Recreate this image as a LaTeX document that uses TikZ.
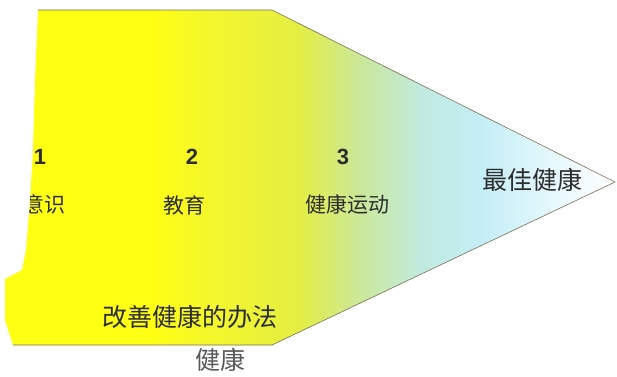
\documentclass[tikz,border=0pt]{standalone}
\usepackage{fontspec}
\setmainfont{Liberation Sans}
\newfontfamily\cjk{Noto Sans CJK SC}
\definecolor{cA}{RGB}{255,255,20}
\definecolor{cB}{RGB}{245,248,40}
\definecolor{cC}{RGB}{228,238,66}
\definecolor{cD}{RGB}{205,232,145}
\definecolor{cE}{RGB}{192,234,222}
\definecolor{cF}{RGB}{196,238,246}
\definecolor{cG}{RGB}{230,248,252}
\definecolor{edge}{RGB}{120,110,80}
\definecolor{txt}{RGB}{45,45,45}
\pgfdeclarehorizontalshading{fade}{100bp}{color(0bp)=(cA); color(37bp)=(cA); color(41bp)=(cB); color(49bp)=(cC); color(53.5bp)=(cD); color(59bp)=(cE); color(64bp)=(cF); color(70bp)=(cG); color(75bp)=(white); color(100bp)=(white)}
\tikzset{
  num/.style={font=\fontsize{22}{22}\selectfont\bfseries, text=txt, inner sep=0pt},
  lab/.style={font=\cjk\fontsize{21}{21}\selectfont, text=txt, inner sep=0pt},
  big/.style={font=\cjk\fontsize{25}{25}\selectfont, text=txt, inner sep=0pt},
}
\begin{document}
\begin{tikzpicture}[x=1pt,y=-1pt]
\useasboundingbox (0,0) rectangle (617,376);
\path[shading=fade] (38,10) -- (272,10) -- (615,182) -- (272,345) -- (13,345) -- (5,320) -- (5,279) -- (22,270) -- (26,250) -- (30,200) -- (33,150) -- (35,80) -- cycle;
\draw[edge, line width=0.6pt] (38,10) -- (272,10) -- (615,182) -- (272,345) -- (13,345);
\begin{scope}
\clip (38,10) -- (272,10) -- (615,182) -- (272,345) -- (13,345) -- (5,320) -- (5,279) -- (22,270) -- (26,250) -- (30,200) -- (33,150) -- (35,80) -- cycle;
\node[lab] (l1) at (44,204) {意识};
\end{scope}
\node[num] (n1) at (40,157) {1};
\node[num] (n2) at (192,157) {2};
\node[num] (n3) at (343,157) {3};
\node[lab] (l2) at (184,205) {教育};
\node[lab] (l3) at (347,204) {健康运动};
\node[big] (best) at (532,180) {最佳健康};
\node[big] (way) at (190,317) {改善健康的办法};
\node[big, text=black!65] (health) at (220,360) {健康};
\end{tikzpicture}
\end{document}
